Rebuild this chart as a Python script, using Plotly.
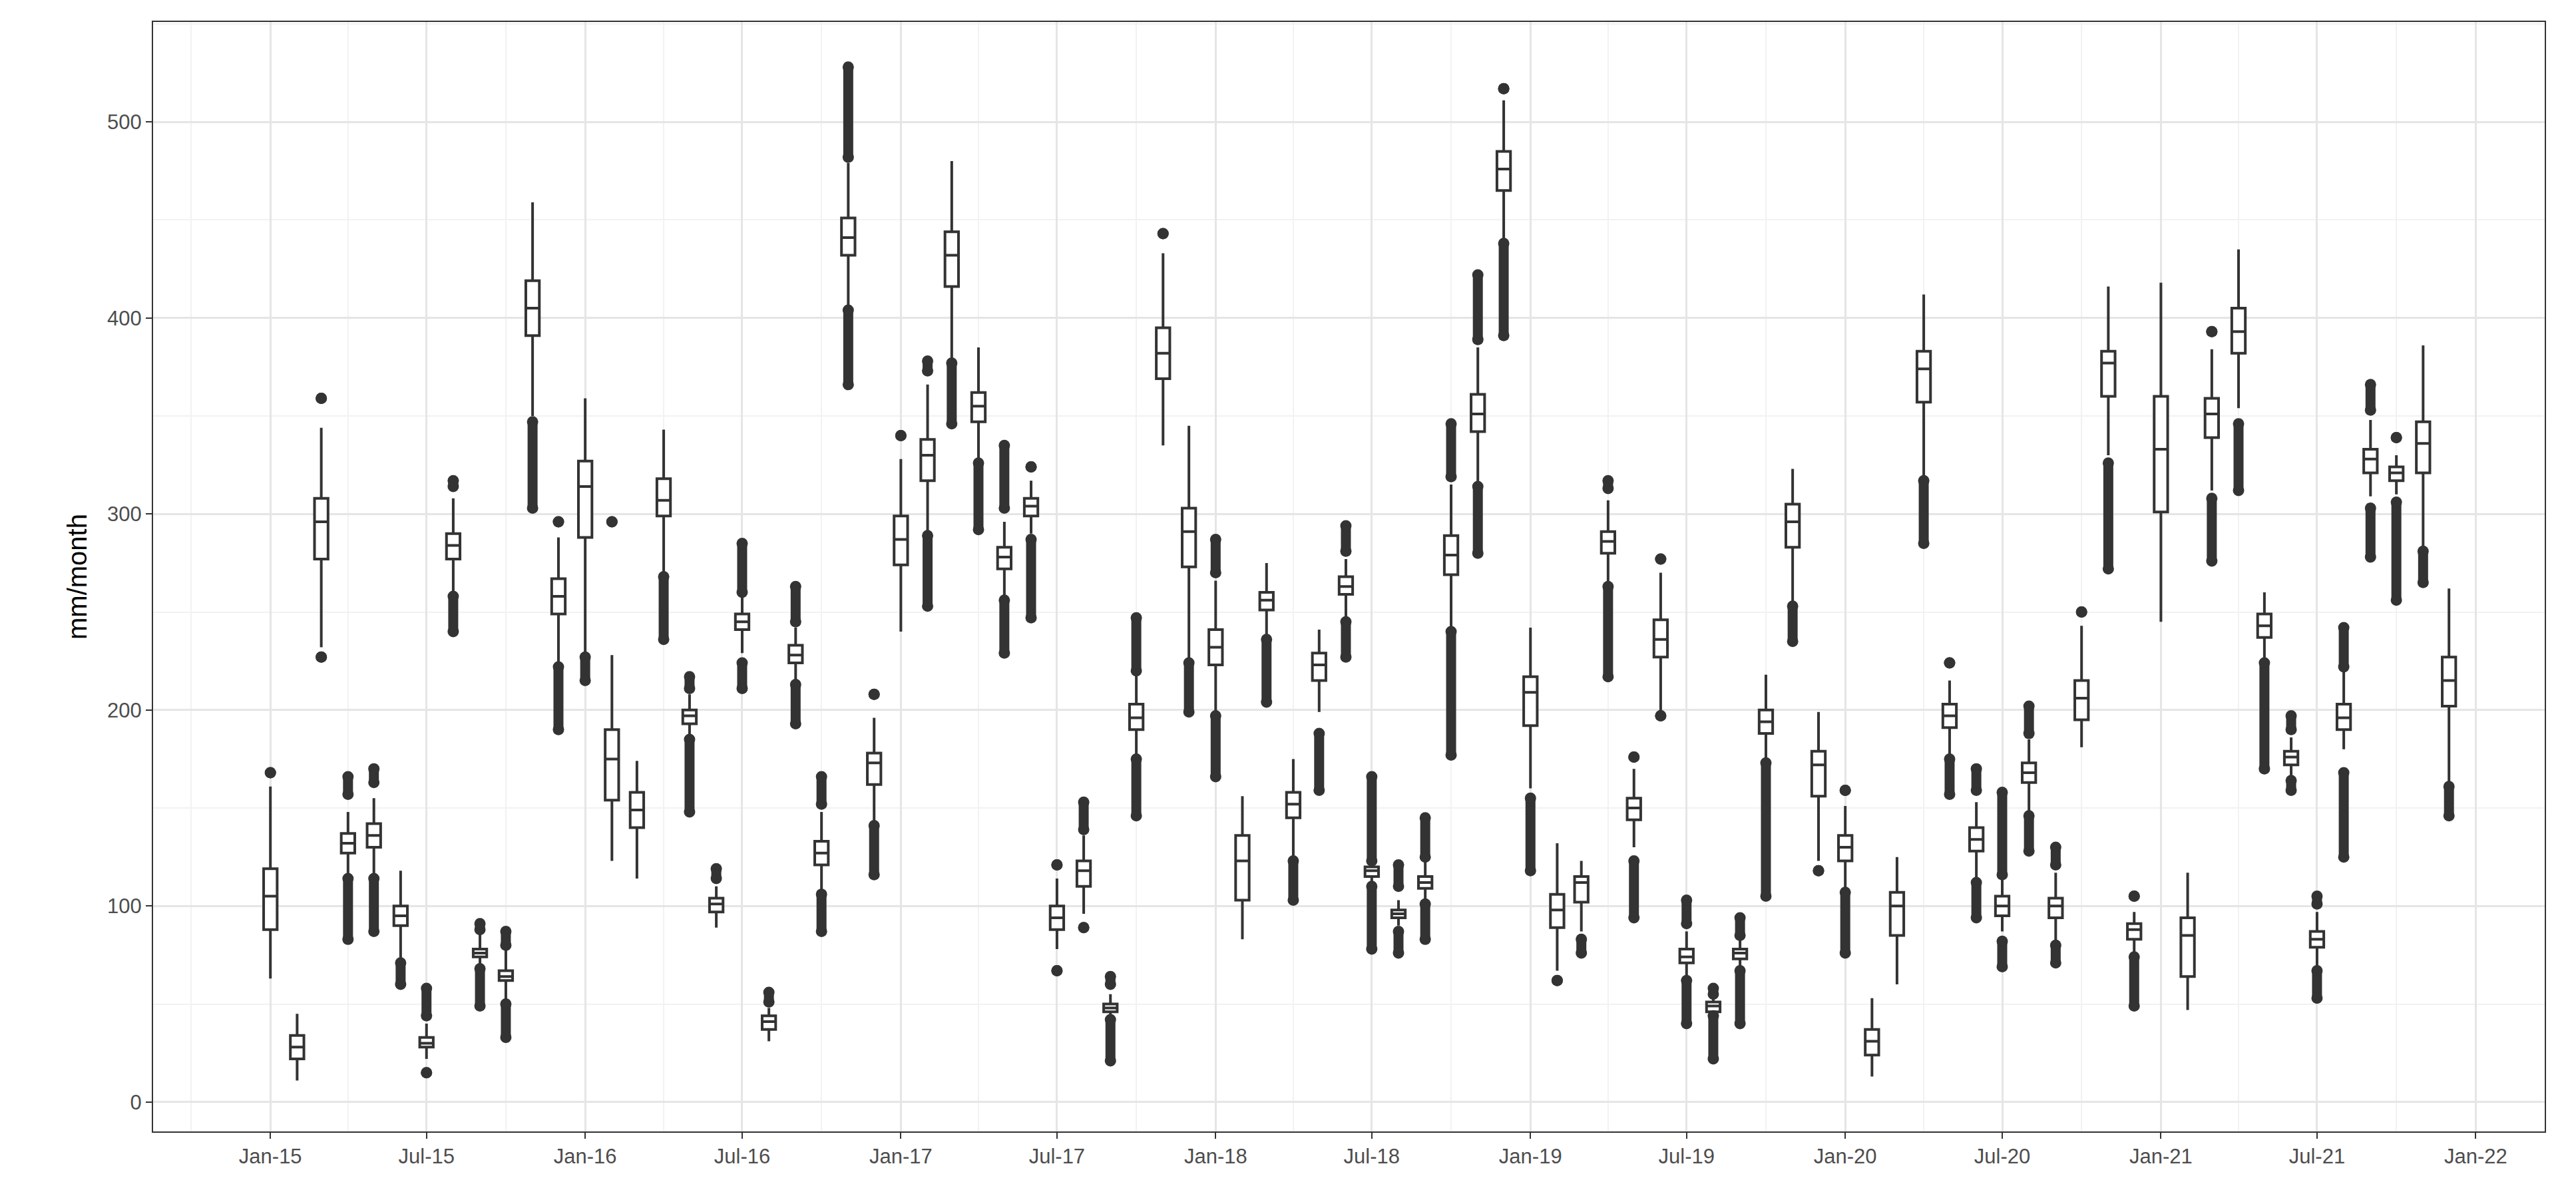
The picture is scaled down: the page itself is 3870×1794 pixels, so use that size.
import plotly.graph_objects as go
import pandas as pd

months = pd.date_range("2015-01-01", "2021-12-01", freq="MS")

q1 = [88,22,277,127,130,90,28,277,74,62,391,249,
      288,154,140,299,193,97,241,37,224,121,432,162,
      274,317,416,347,272,299,88,110,46,190,369,273,
      223,103,251,145,215,259,115,94,109,269,342,465,
      192,89,102,280,144,227,71,46,73,188,283,156,
      123,24,85,357,191,128,95,163,94,195,360,83,
      301,64,339,382,237,172,79,190,321,317,321,202]
med = [105,28,296,132,136,95,30,284,76,64,405,258,
       314,175,149,307,197,101,245,41,228,127,441,173,
       287,330,432,355,278,304,94,118,48,196,382,291,
       232,123,256,152,223,263,118,96,112,279,351,476,
       209,98,112,286,150,236,74,49,76,194,296,172,
       130,31,100,374,197,134,100,168,100,206,377,88,
       333,85,351,393,243,176,83,196,328,321,336,215]
q3 = [119,34,308,137,142,100,33,290,78,67,419,267,
      327,190,158,318,200,104,249,44,233,133,451,178,
      299,338,444,362,283,308,100,123,50,203,395,303,
      241,136,260,158,229,268,120,98,115,289,361,485,
      217,106,115,291,155,246,78,51,78,200,305,179,
      136,37,107,383,203,140,105,173,104,215,383,91,
      360,94,359,405,249,179,87,203,333,324,347,227]
lowf = [63,11,232,116,114,73,22,260,69,52,350,224,
        229,123,114,270,187,89,229,31,215,108,406,142,
        240,290,378,328,258,290,78,96,43,176,335,226,
        198,83,238,125,199,247,110,90,101,240,316,440,
        160,67,87,263,130,199,63,44,68,174,254,123,
        107,13,60,318,176,114,87,148,82,181,330,76,
        245,47,312,354,226,165,69,180,309,310,282,163]
upf = [161,45,344,148,155,118,40,308,86,78,459,288,
       359,228,174,343,208,110,258,48,242,148,479,196,
       328,366,480,385,296,317,114,136,55,218,433,345,
       266,156,275,175,241,277,123,103,123,315,385,511,
       242,132,123,307,170,270,87,53,83,218,323,199,
       151,53,125,412,215,153,114,185,117,243,416,97,
       418,117,384,435,260,186,97,220,348,330,386,262]
N = None
lo_min = [N,N,227,83,87,60,15,240,49,33,303,190,
          215,N,N,236,148,N,211,N,193,87,366,116,
          N,253,346,292,229,247,67,89,21,146,N,199,
          166,N,204,103,159,227,78,76,83,177,280,391,
          118,62,76,217,94,197,40,22,40,105,235,118,
          76,N,N,285,157,94,69,128,71,N,272,49,
          N,N,276,312,170,159,53,125,278,256,265,146]
lo_max = [N,N,227,114,114,71,15,258,68,50,347,222,
          227,N,N,268,185,N,224,N,213,106,404,141,
          N,289,377,326,256,287,67,89,42,175,N,224,
          197,N,236,123,188,245,110,87,101,240,314,438,
          155,62,83,263,123,197,62,44,67,173,253,118,
          107,N,N,317,175,112,82,146,80,N,326,74,
          N,N,308,346,224,164,67,168,303,306,281,161]
hi_min = [168,N,359,157,163,N,44,314,88,80,N,296,
          N,296,N,N,211,114,260,51,245,152,482,208,
          340,373,N,N,303,324,121,139,60,220,443,N,
          270,N,N,N,N,281,123,110,125,319,389,517,
          N,N,N,313,176,277,91,55,85,N,N,N,
          159,N,N,N,224,159,116,188,121,250,N,105,
          N,N,393,N,N,190,101,222,353,339,N,N]
hi_max = [168,N,359,166,170,N,58,317,91,87,N,296,
          N,296,N,N,217,119,285,56,263,166,528,208,
          340,378,N,N,335,324,121,153,64,247,443,N,
          287,N,N,N,N,294,166,121,145,346,422,517,
          N,N,N,317,176,277,103,58,94,N,N,N,
          159,N,N,N,224,170,158,202,130,250,N,105,
          N,N,393,N,N,197,105,242,366,339,N,N]

dark = "#333333"
fig = go.Figure()
fig.add_trace(go.Box(x=months, q1=q1, median=med, q3=q3, lowerfence=lowf, upperfence=upf,
                     fillcolor="white", line=dict(color=dark, width=4), whiskerwidth=0,
                     boxpoints=False, showlegend=False, hoverinfo="skip"))

ox, oy = [], []
for i, m in enumerate(months):
    for a, b in ((lo_min[i], lo_max[i]), (hi_min[i], hi_max[i])):
        if a is not None:
            ox += [m, m, None]
            oy += [a, b, None]
fig.add_trace(go.Scatter(x=ox, y=oy, mode="lines+markers", connectgaps=False,
                         line=dict(color=dark, width=15),
                         marker=dict(color=dark, size=17), showlegend=False, hoverinfo="skip"))

tickfont = dict(family="Liberation Sans, Arial", size=31, color="#4d4d4d")
fig.update_layout(
    width=3870, height=1794, paper_bgcolor="white", plot_bgcolor="white",
    margin=dict(l=222, r=55, t=25, b=102), boxgap=0.2,
    font=dict(family="Liberation Sans, Arial", color="black"),
)
fig.update_xaxes(type="date", range=["2014-08-18", "2022-03-22"], tick0="2015-01-01", dtick="M6",
                 tickformat="%b-%y", tickfont=tickfont, showgrid=True, gridcolor="#e5e5e5", gridwidth=3,
                 minor=dict(dtick="M3", tick0="2015-01-01", showgrid=True, gridcolor="#f2f2f2", gridwidth=2),
                 ticks="outside", ticklen=9, tickwidth=2, tickcolor=dark,
                 showline=True, linecolor=dark, linewidth=2, mirror=True, zeroline=False)
fig.update_yaxes(range=[-15, 551], dtick=100, tickfont=tickfont, showgrid=True, gridcolor="#e5e5e5", gridwidth=3,
                 minor=dict(dtick=50, showgrid=True, gridcolor="#f2f2f2", gridwidth=2),
                 ticks="outside", ticklen=9, tickwidth=2, tickcolor=dark,
                 showline=True, linecolor=dark, linewidth=2, mirror=True, zeroline=False,
                 title=dict(text="mm/month", font=dict(family="Liberation Sans, Arial", size=40, color="black"), standoff=18))
fig.write_html("out.html")
